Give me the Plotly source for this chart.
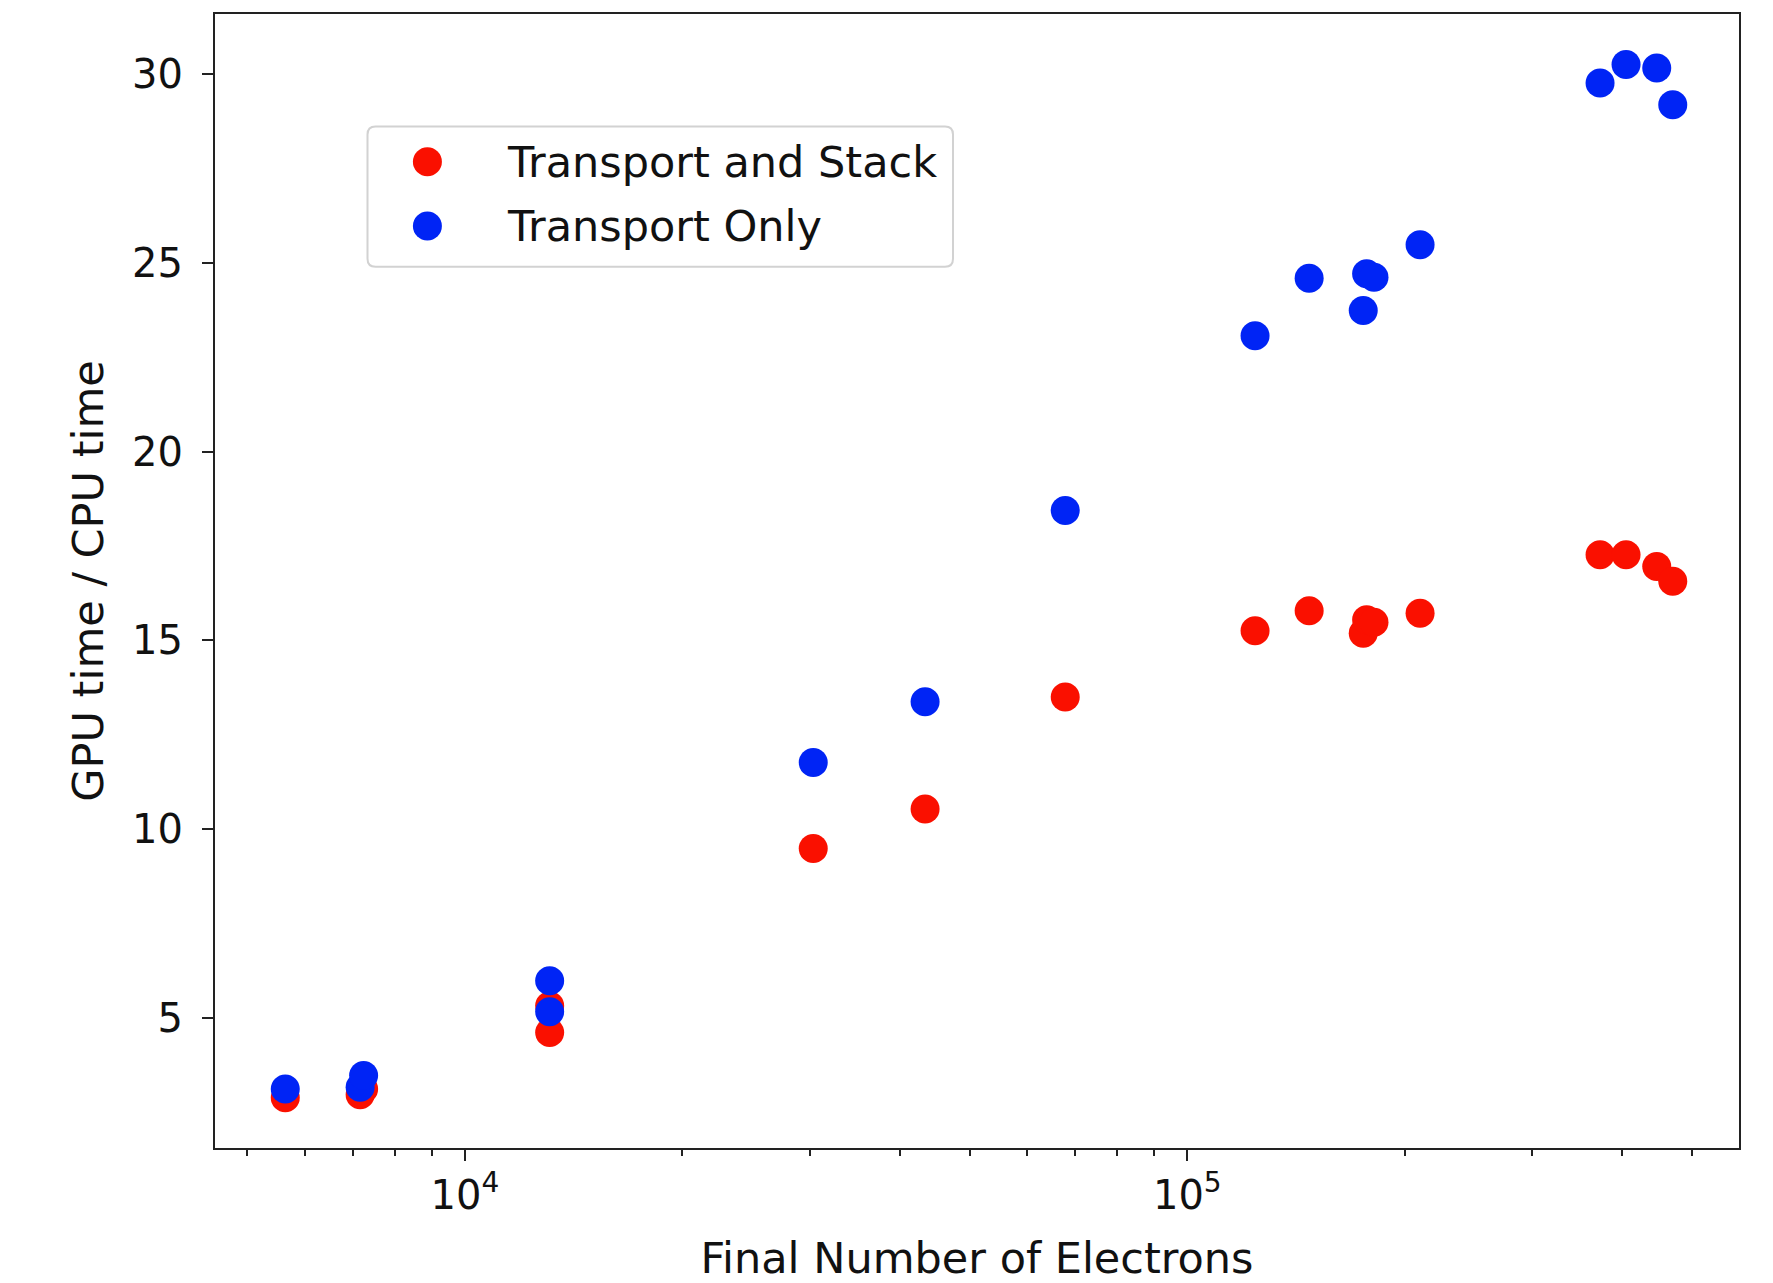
import plotly.graph_objects as go

# Final electron counts per run and the GPU/CPU speed-up measured for each mode
electrons_stack = [5640, 7160, 7240, 13100, 13100, 30350, 43350, 67760,
                   124100, 147450, 175200, 177100, 181300, 210000,
                   372700, 404900, 446500, 469900]
speedup_stack = [2.89, 2.97, 3.12, 4.62, 5.33, 9.49, 10.54, 13.50,
                 15.26, 15.79, 15.19, 15.55, 15.48, 15.72,
                 17.27, 17.27, 16.96, 16.57]

electrons_only = [5640, 7160, 7240, 13100, 13100, 30350, 43350, 67760,
                  124100, 147450, 175200, 177100, 181300, 210000,
                  372700, 404900, 446500, 469900]
speedup_only = [3.12, 3.17, 3.48, 5.17, 5.99, 11.77, 13.38, 18.44,
                23.07, 24.59, 23.74, 24.71, 24.62, 25.48,
                29.76, 30.25, 30.16, 29.19]

series_names = ["Transport and Stack", "Transport Only"]

x_major = [1e4, 1e5]
x_major_text = ["10<sup>4</sup>", "10<sup>5</sup>"]
x_minor = [5000, 6000, 7000, 8000, 9000,
           20000, 30000, 40000, 50000, 60000, 70000, 80000, 90000,
           200000, 300000, 400000, 500000]
y_ticks = [5, 10, 15, 20, 25, 30]

FONT = "DejaVu Sans"
RED = "#fa1000"
BLUE = "#0024f5"
MARKER = 29

W, H = 1773, 1283
ML, MR, MT, MB = 215, 34, 14, 135
PW, PH = W - ML - MR, H - MT - MB


def px_to_paper(x, y):
    """Pixel position on the page -> paper coordinates of the plot area."""
    return (x - ML) / PW, (H - MB - y) / PH


fig = go.Figure()
colors = [RED, BLUE]
for name, xs, ys, col in zip(series_names,
                             [electrons_stack, electrons_only],
                             [speedup_stack, speedup_only], colors):
    fig.add_trace(go.Scatter(
        x=xs, y=ys, mode="markers", name=name, showlegend=False,
        marker=dict(color=col, size=MARKER, line=dict(width=0)),
    ))

axis_common = dict(
    showline=True, linecolor="#222222", linewidth=2, mirror=True,
    showgrid=False, zeroline=False, automargin=False,
    ticks="outside", tickcolor="#222222", tickwidth=2, ticklen=11,
    tickfont=dict(family=FONT, size=40, color="#111111"),
)

fig.update_xaxes(
    type="log", range=[3.654, 5.7637],
    tickmode="array", tickvals=x_major, ticktext=x_major_text,
    minor=dict(tickmode="array", tickvals=x_minor, ticks="outside",
               ticklen=6, tickwidth=1.6, tickcolor="#222222", showgrid=False),
    title=dict(text="Final Number of Electrons",
               font=dict(family=FONT, size=43, color="#111111"), standoff=27),
    **axis_common,
)
fig.update_yaxes(
    range=[1.56, 31.59], tickmode="array", tickvals=y_ticks,
    ticklabelstandoff=11,
    title=dict(text="GPU time / CPU time",
               font=dict(family=FONT, size=43, color="#111111"), standoff=15),
    **axis_common,
)

# Legend box drawn in the upper-left corner of the axes
box_x0, box_y0 = px_to_paper(367.5, 126.6)
box_x1, box_y1 = px_to_paper(953, 266.8)
r = 8  # corner radius in pixels
rx, ry = r / PW, r / PH
legend_path = (
    f"M {box_x0 + rx},{box_y0} L {box_x1 - rx},{box_y0} "
    f"Q {box_x1},{box_y0} {box_x1},{box_y0 - ry} "
    f"L {box_x1},{box_y1 + ry} Q {box_x1},{box_y1} {box_x1 - rx},{box_y1} "
    f"L {box_x0 + rx},{box_y1} Q {box_x0},{box_y1} {box_x0},{box_y1 + ry} "
    f"L {box_x0},{box_y0 - ry} Q {box_x0},{box_y0} {box_x0 + rx},{box_y0} Z"
)
shapes = [dict(type="path", xref="paper", yref="paper", path=legend_path,
               line=dict(color="#d2d2d2", width=2),
               fillcolor="rgba(255,255,255,0.8)", layer="above")]
annotations = []
legend_rows_y = [161.7, 226.1]
for name, col, row_y in zip(series_names, colors, legend_rows_y):
    cx, cy = px_to_paper(427.4, row_y)
    shapes.append(dict(type="circle", xref="paper", yref="paper",
                       xsizemode="pixel", ysizemode="pixel",
                       xanchor=cx, yanchor=cy,
                       x0=-MARKER / 2, x1=MARKER / 2,
                       y0=-MARKER / 2, y1=MARKER / 2,
                       fillcolor=col, line=dict(width=0), layer="above"))
    tx, ty = px_to_paper(505.4, row_y)
    annotations.append(dict(text=name, xref="paper", yref="paper",
                            x=tx, y=ty, xanchor="left", yanchor="middle",
                            showarrow=False,
                            font=dict(family=FONT, size=43, color="#111111")))

fig.update_layout(
    width=W, height=H,
    margin=dict(l=ML, r=MR, t=MT, b=MB),
    paper_bgcolor="white", plot_bgcolor="white",
    showlegend=False,
    shapes=shapes,
    annotations=annotations,
)

fig.write_html("out.html")
